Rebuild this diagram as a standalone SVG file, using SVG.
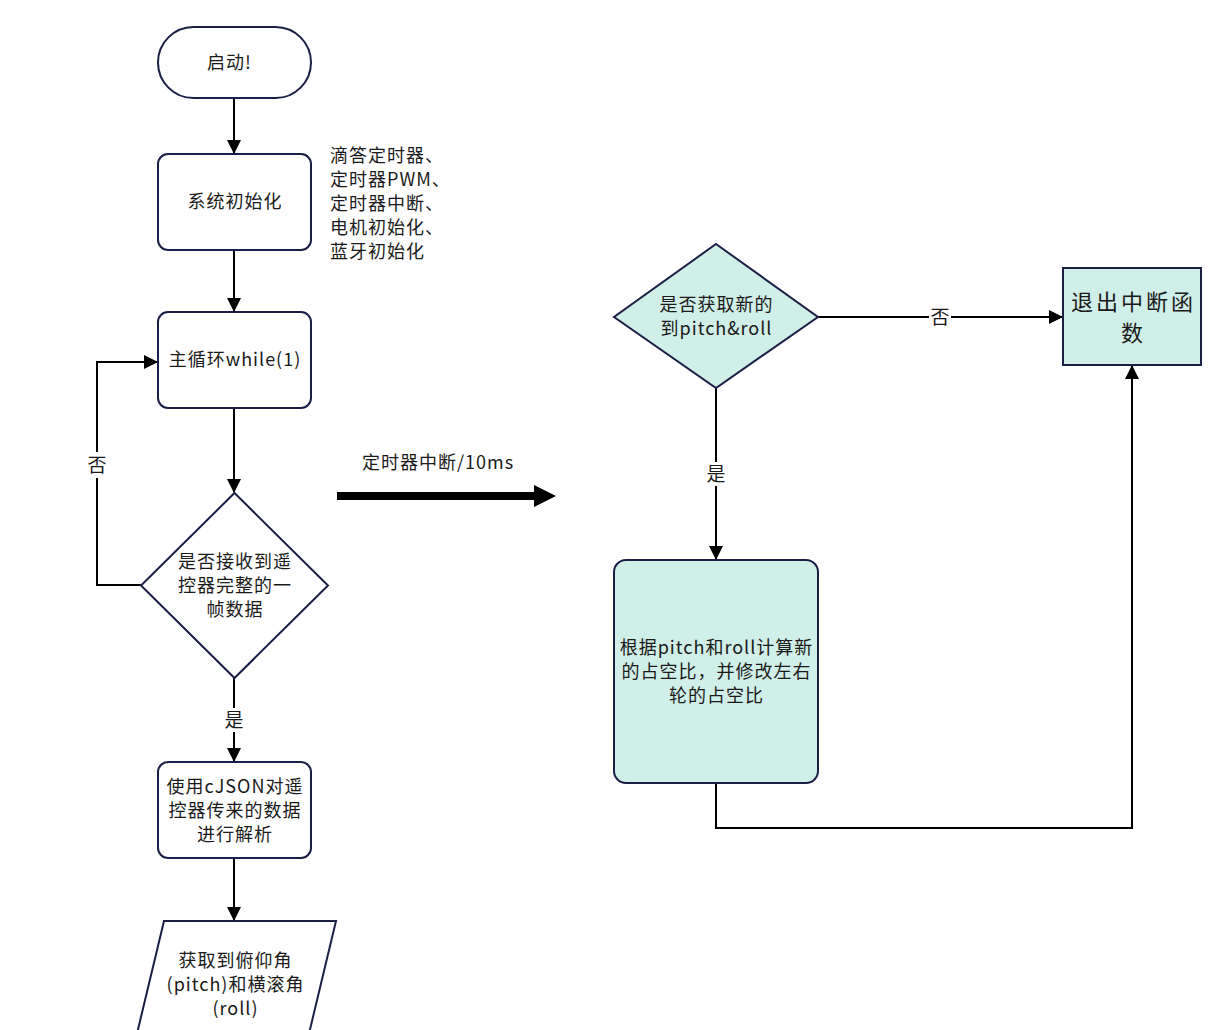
<svg xmlns="http://www.w3.org/2000/svg" width="1224" height="1030" viewBox="0 0 1224 1030">
<style>
.n{fill:#ffffff;stroke:#1b1f45;stroke-width:2}
.g{fill:#d0efe8;stroke:#1b1f45;stroke-width:2}
.t{font-family:"Noto Sans CJK SC","Liberation Sans",sans-serif;font-size:18px;letter-spacing:1px;fill:#1a1a1a;text-anchor:middle}
.l{font-family:"Noto Sans CJK SC","Liberation Sans",sans-serif;font-size:18px;letter-spacing:1px;fill:#1a1a1a}
.c{fill:none;stroke:#000;stroke-width:2}
.lb{font-family:"Noto Sans CJK SC","Liberation Sans",sans-serif;font-size:19px;fill:#1a1a1a;text-anchor:middle}
.big{font-size:22px;letter-spacing:3px}
</style>
<defs>
<marker id="a" markerWidth="14" markerHeight="14" refX="13" refY="7" orient="auto" markerUnits="userSpaceOnUse" viewBox="0 0 14 14">
<path d="M0,0 L14,7 L0,14 z" fill="#000"/>
</marker>
</defs>
<rect width="1224" height="1030" fill="#ffffff"/>
<g id="connectors">
<line class="c" x1="234" y1="98" x2="234" y2="153" marker-end="url(#a)"/>
<line class="c" x1="234" y1="250" x2="234" y2="311" marker-end="url(#a)"/>
<line class="c" x1="234" y1="408" x2="234" y2="492" marker-end="url(#a)"/>
<line class="c" x1="234" y1="678" x2="234" y2="761" marker-end="url(#a)"/>
<line class="c" x1="234" y1="858" x2="234" y2="920" marker-end="url(#a)"/>
<polyline class="c" points="141,585 97,585 97,362 157,362" marker-end="url(#a)"/>
<rect x="86" y="452" width="22" height="26" fill="#fff"/>
<text class="lb" x="97" y="472">否</text>
<rect x="222" y="708" width="24" height="24" fill="#fff"/>
<text class="lb" x="234" y="727">是</text>
<line x1="337" y1="496" x2="536" y2="496" stroke="#000" stroke-width="8"/>
<path d="M534,485 L556,496 L534,507 z" fill="#000"/>
<text class="l" x="362" y="469">定时器中断/10ms</text>
<line class="c" x1="818" y1="317" x2="1062" y2="317" marker-end="url(#a)"/>
<rect x="929" y="306" width="22" height="22" fill="#fff"/>
<text class="lb" x="940" y="324">否</text>
<line class="c" x1="716" y1="388" x2="716" y2="559" marker-end="url(#a)"/>
<rect x="705" y="462" width="22" height="24" fill="#fff"/>
<text class="lb" x="716" y="481">是</text>
<polyline class="c" points="716,783 716,828 1132,828 1132,366" marker-end="url(#a)"/>
</g>
<g id="start">
<rect class="n" x="158" y="27" width="153" height="71" rx="35.5"/>
<text class="t" x="229.5" y="69">启动!</text>
</g>
<g id="init">
<rect class="n" x="158" y="154" width="153" height="96" rx="10"/>
<text class="t" x="235" y="208">系统初始化</text>
</g>
<g id="note">
<text class="l" x="330" y="162">滴答定时器、</text>
<text class="l" x="330" y="186">定时器PWM、</text>
<text class="l" x="330" y="210">定时器中断、</text>
<text class="l" x="330" y="234">电机初始化、</text>
<text class="l" x="330" y="258">蓝牙初始化</text>
</g>
<g id="mainloop">
<rect class="n" x="158" y="312" width="153" height="96" rx="10"/>
<text class="t" x="235" y="366">主循环while(1)</text>
</g>
<g id="check">
<polygon class="n" points="234.5,493 328,585.5 234.5,678 141,585.5"/>
<text class="t" x="235" y="568">是否接收到遥</text>
<text class="t" x="235" y="592">控器完整的一</text>
<text class="t" x="235" y="616">帧数据</text>
</g>
<g id="parse">
<rect class="n" x="158" y="762" width="153" height="96" rx="10"/>
<text class="t" x="235" y="793">使用cJSON对遥</text>
<text class="t" x="235" y="817">控器传来的数据</text>
<text class="t" x="235" y="841">进行解析</text>
</g>
<g id="getangle">
<polygon class="n" points="164,921 336,921 307,1042 135,1042"/>
<text class="t" x="235.5" y="967">获取到俯仰角</text>
<text class="t" x="235.5" y="991">(pitch)和横滚角</text>
<text class="t" x="235.5" y="1015">(roll)</text>
</g>
<g id="newangle">
<polygon class="g" points="716,244 818,317 716,388 614,317"/>
<text class="t" x="716.5" y="311">是否获取新的</text>
<text class="t" x="716.5" y="335">到pitch&amp;roll</text>
</g>
<g id="exit">
<rect class="g" x="1063" y="268" width="138" height="97"/>
<text class="t big" x="1133.5" y="310">退出中断函</text>
<text class="t big" x="1133.5" y="341">数</text>
</g>
<g id="compute">
<rect class="g" x="614" y="560" width="204" height="223" rx="12"/>
<text class="t" x="716.5" y="654">根据pitch和roll计算新</text>
<text class="t" x="716.5" y="678">的占空比，并修改左右</text>
<text class="t" x="716.5" y="702">轮的占空比</text>
</g>
</svg>
